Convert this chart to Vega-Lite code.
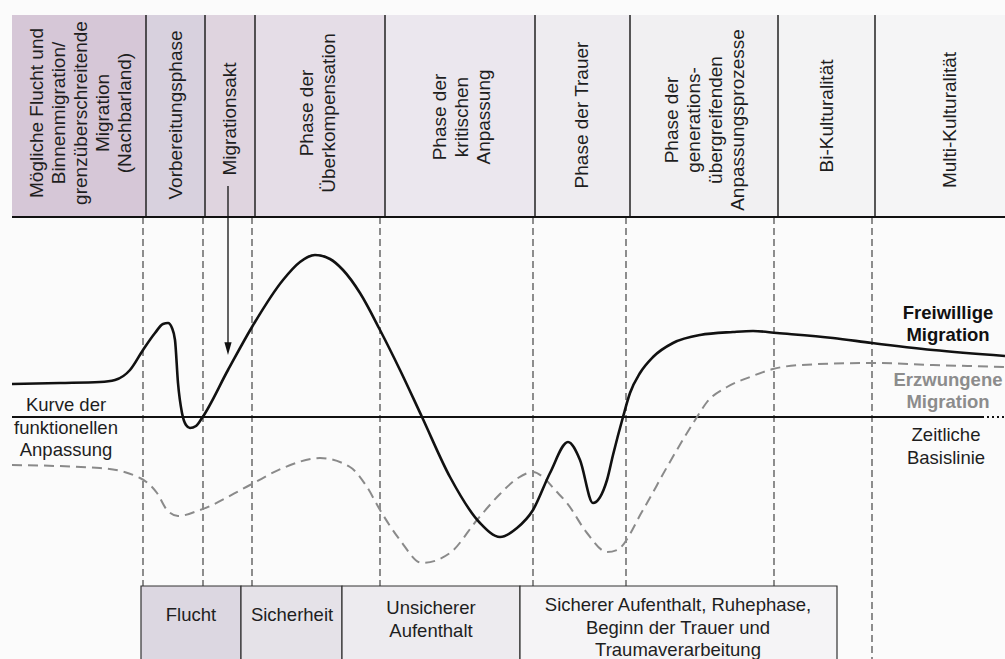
{
  "$schema": "https://vega.github.io/schema/vega-lite/v6.json",
  "width": 1005,
  "height": 659,
  "autosize": {"type": "none"},
  "padding": 0,
  "background": "#fbfbfb",
  "config": {"view": {"stroke": null}, "text": {"font": "Liberation Sans"}},
  "datasets": {
    "header": [
      {"id": "p1", "label": "Mögliche Flucht und\nBinnenmigration/\ngrenzüberschreitende\nMigration\n(Nachbarland)", "x0": 12, "x1": 146, "top": 402, "bot": 200, "xm": 37, "ym": 304},
      {"id": "p2", "label": "Vorbereitungsphase", "x0": 146, "x1": 205, "top": 402, "bot": 200, "xm": 176, "ym": 302},
      {"id": "p3", "label": "Migrationsakt", "x0": 205, "x1": 255, "top": 402, "bot": 200, "xm": 230, "ym": 298},
      {"id": "p4", "label": "Phase der\nÜberkompensation", "x0": 255, "x1": 385, "top": 402, "bot": 200, "xm": 307, "ym": 304},
      {"id": "p5", "label": "Phase der\nkritischen\nAnpassung", "x0": 385, "x1": 535, "top": 402, "bot": 200, "xm": 440, "ym": 300},
      {"id": "p6", "label": "Phase der Trauer", "x0": 535, "x1": 630, "top": 402, "bot": 200, "xm": 582, "ym": 302},
      {"id": "p7", "label": "Phase der\ngenerations-\nübergreifenden\nAnpassungsprozesse", "x0": 630, "x1": 778, "top": 402, "bot": 200, "xm": 672, "ym": 297},
      {"id": "p8", "label": "Bi-Kulturalität", "x0": 778, "x1": 875, "top": 402, "bot": 200, "xm": 827, "ym": 301},
      {"id": "p9", "label": "Multi-Kulturalität", "x0": 875, "x1": 1005, "top": 402, "bot": 200, "xm": 950, "ym": 297}
    ],
    "dividers": [
      {"t": 146, "top": 402, "bot": 200}, {"t": 205, "top": 402, "bot": 200}, {"t": 255, "top": 402, "bot": 200},
      {"t": 385, "top": 402, "bot": 200}, {"t": 535, "top": 402, "bot": 200}, {"t": 630, "top": 402, "bot": 200},
      {"t": 778, "top": 402, "bot": 200}, {"t": 875, "top": 402, "bot": 200}
    ],
    "dashes": [
      {"t": 143, "top": 200, "end": -169}, {"t": 203, "top": 200, "end": -169}, {"t": 252, "top": 200, "end": -169},
      {"t": 380, "top": 200, "end": -169}, {"t": 533, "top": 200, "end": -169}, {"t": 626, "top": 200, "end": -169},
      {"t": 774, "top": 200, "end": -169}, {"t": 872, "top": 200, "end": -250}
    ],
    "hlines": [
      {"kind": "header", "a": 12, "b": 1005, "lvl": 200},
      {"kind": "baseline", "a": 12, "b": 982, "lvl": 0}
    ],
    "boxes": [
      {"id": "b1", "label": "Flucht", "x0": 141, "x1": 241, "top": -169, "bot": -250, "xm": 191, "ym": -198},
      {"id": "b2", "label": "Sicherheit", "x0": 241, "x1": 342, "top": -169, "bot": -250, "xm": 292, "ym": -198},
      {"id": "b3", "label": "Unsicherer\nAufenthalt", "x0": 342, "x1": 520, "top": -169, "bot": -250, "xm": 431, "ym": -191},
      {"id": "b4", "label": "Sicherer Aufenthalt, Ruhephase,\nBeginn der Trauer und\nTraumaverarbeitung", "x0": 520, "x1": 837, "top": -169, "bot": -250, "xm": 678, "ym": -188}
    ],
    "free": [
      {"t": 12, "level": 33}, {"t": 60, "level": 34}, {"t": 100, "level": 35}, {"t": 115, "level": 37},
      {"t": 130, "level": 47}, {"t": 143, "level": 67}, {"t": 155, "level": 84}, {"t": 163, "level": 93},
      {"t": 168, "level": 94}, {"t": 172, "level": 89}, {"t": 175, "level": 77}, {"t": 178, "level": 34},
      {"t": 182, "level": 4}, {"t": 186, "level": -8}, {"t": 190, "level": -11}, {"t": 196, "level": -9},
      {"t": 202, "level": -1}, {"t": 228, "level": 47}, {"t": 252, "level": 90}, {"t": 283, "level": 137},
      {"t": 300, "level": 155}, {"t": 315, "level": 162}, {"t": 330, "level": 158}, {"t": 343, "level": 147},
      {"t": 360, "level": 124}, {"t": 380, "level": 87}, {"t": 400, "level": 47}, {"t": 422, "level": 0},
      {"t": 450, "level": -60}, {"t": 480, "level": -106}, {"t": 500, "level": -120}, {"t": 517, "level": -111},
      {"t": 533, "level": -93}, {"t": 550, "level": -56}, {"t": 568, "level": -25}, {"t": 580, "level": -43},
      {"t": 593, "level": -86}, {"t": 607, "level": -63}, {"t": 613, "level": -38}, {"t": 623, "level": 0},
      {"t": 630, "level": 24}, {"t": 640, "level": 44}, {"t": 653, "level": 60}, {"t": 673, "level": 74},
      {"t": 700, "level": 82}, {"t": 733, "level": 85}, {"t": 753, "level": 86}, {"t": 777, "level": 84},
      {"t": 833, "level": 79}, {"t": 872, "level": 74}, {"t": 933, "level": 67}, {"t": 1005, "level": 61}
    ],
    "forced": [
      {"t": 12, "level": -48}, {"t": 100, "level": -51}, {"t": 140, "level": -61}, {"t": 157, "level": -76},
      {"t": 167, "level": -93}, {"t": 178, "level": -99}, {"t": 200, "level": -93}, {"t": 250, "level": -68},
      {"t": 283, "level": -51}, {"t": 320, "level": -41}, {"t": 350, "level": -50}, {"t": 367, "level": -70},
      {"t": 380, "level": -93}, {"t": 400, "level": -123}, {"t": 422, "level": -146}, {"t": 450, "level": -136},
      {"t": 477, "level": -103}, {"t": 500, "level": -77}, {"t": 518, "level": -61}, {"t": 533, "level": -55},
      {"t": 543, "level": -60}, {"t": 555, "level": -73}, {"t": 567, "level": -86}, {"t": 587, "level": -116},
      {"t": 607, "level": -135}, {"t": 617, "level": -133}, {"t": 643, "level": -93}, {"t": 667, "level": -50},
      {"t": 687, "level": -16}, {"t": 697, "level": 0}, {"t": 707, "level": 15}, {"t": 727, "level": 30},
      {"t": 750, "level": 40}, {"t": 773, "level": 48}, {"t": 800, "level": 52}, {"t": 872, "level": 54},
      {"t": 933, "level": 52}, {"t": 1005, "level": 50}
    ]
  },
  "layer": [
    {
      "data": {"name": "header"},
      "mark": {"type": "rect"},
      "encoding": {
        "x": {"field": "x0", "type": "quantitative", "scale": {"domain": [0, 1005], "nice": false, "zero": false}, "axis": null},
        "x2": {"field": "x1"},
        "y": {"field": "top", "type": "quantitative", "scale": {"domain": [-242, 417], "nice": false, "zero": false}, "axis": null},
        "y2": {"field": "bot"},
        "fill": {"field": "id", "type": "nominal", "legend": null,
          "scale": {"domain": ["p1","p2","p3","p4","p5","p6","p7","p8","p9","b1","b2","b3","b4"],
                    "range": ["#d6c7d7","#d8d1de","#dfd4df","#e5dde7","#ebe7ee","#eeecf0","#f1f0f2","#f3f3f4","#f5f5f6","#dcd7e1","#e5e2e8","#edebef","#f5f4f6"]}}
      }
    },
    {
      "data": {"name": "dividers"},
      "mark": {"type": "rule", "stroke": "#222222", "strokeWidth": 1.5},
      "encoding": {
        "x": {"field": "t", "type": "quantitative", "scale": {"domain": [0, 1005], "nice": false, "zero": false}, "axis": null},
        "y": {"field": "top", "type": "quantitative", "scale": {"domain": [-242, 417], "nice": false, "zero": false}, "axis": null},
        "y2": {"field": "bot"}
      }
    },
    {
      "data": {"name": "dashes"},
      "mark": {"type": "rule", "stroke": "#333333", "strokeWidth": 1.1, "strokeDash": [7, 4]},
      "encoding": {
        "x": {"field": "t", "type": "quantitative", "scale": {"domain": [0, 1005], "nice": false, "zero": false}, "axis": null},
        "y": {"field": "top", "type": "quantitative", "scale": {"domain": [-242, 417], "nice": false, "zero": false}, "axis": null},
        "y2": {"field": "end"}
      }
    },
    {
      "data": {"name": "boxes"},
      "mark": {"type": "rect", "stroke": "#333333", "strokeWidth": 1.2},
      "encoding": {
        "x": {"field": "x0", "type": "quantitative", "scale": {"domain": [0, 1005], "nice": false, "zero": false}, "axis": null},
        "x2": {"field": "x1"},
        "y": {"field": "top", "type": "quantitative", "scale": {"domain": [-242, 417], "nice": false, "zero": false}, "axis": null},
        "y2": {"field": "bot"},
        "fill": {"field": "id", "type": "nominal", "legend": null,
          "scale": {"domain": ["p1","p2","p3","p4","p5","p6","p7","p8","p9","b1","b2","b3","b4"],
                    "range": ["#d6c7d7","#d8d1de","#dfd4df","#e5dde7","#ebe7ee","#eeecf0","#f1f0f2","#f3f3f4","#f5f5f6","#dcd7e1","#e5e2e8","#edebef","#f5f4f6"]}}
      }
    },
    {
      "data": {"name": "hlines"},
      "mark": {"type": "rule", "stroke": "#111111", "strokeWidth": 2.1},
      "encoding": {
        "x": {"field": "a", "type": "quantitative", "scale": {"domain": [0, 1005], "nice": false, "zero": false}, "axis": null},
        "x2": {"field": "b"},
        "y": {"field": "lvl", "type": "quantitative", "scale": {"domain": [-242, 417], "nice": false, "zero": false}, "axis": null}
      }
    },
    {
      "data": {"values": [{"a": 982, "b": 1005, "lvl": 0}]},
      "mark": {"type": "rule", "stroke": "#111111", "strokeWidth": 2, "strokeDash": [2, 3]},
      "encoding": {
        "x": {"field": "a", "type": "quantitative", "scale": {"domain": [0, 1005], "nice": false, "zero": false}, "axis": null},
        "x2": {"field": "b"},
        "y": {"field": "lvl", "type": "quantitative", "scale": {"domain": [-242, 417], "nice": false, "zero": false}, "axis": null}
      }
    },
    {
      "data": {"name": "forced"},
      "mark": {"type": "line", "stroke": "#8a8a8a", "strokeWidth": 2, "strokeDash": [10, 6], "interpolate": "monotone"},
      "encoding": {
        "x": {"field": "t", "type": "quantitative", "scale": {"domain": [0, 1005], "nice": false, "zero": false}, "axis": null},
        "y": {"field": "level", "type": "quantitative", "scale": {"domain": [-242, 417], "nice": false, "zero": false}, "axis": null}
      }
    },
    {
      "data": {"name": "free"},
      "mark": {"type": "line", "stroke": "#111111", "strokeWidth": 2.6, "interpolate": "monotone"},
      "encoding": {
        "x": {"field": "t", "type": "quantitative", "scale": {"domain": [0, 1005], "nice": false, "zero": false}, "axis": null},
        "y": {"field": "level", "type": "quantitative", "scale": {"domain": [-242, 417], "nice": false, "zero": false}, "axis": null}
      }
    },
    {
      "data": {"values": [{"t": 228, "from": 231, "to": 68}]},
      "mark": {"type": "rule", "stroke": "#111111", "strokeWidth": 1.3},
      "encoding": {
        "x": {"field": "t", "type": "quantitative", "scale": {"domain": [0, 1005], "nice": false, "zero": false}, "axis": null},
        "y": {"field": "from", "type": "quantitative", "scale": {"domain": [-242, 417], "nice": false, "zero": false}, "axis": null},
        "y2": {"field": "to"}
      }
    },
    {
      "data": {"values": [{"t": 228, "tip": 62}]},
      "mark": {"type": "point", "shape": "M-0.9,-3.2L0.9,-3.2L0,0Z", "size": 64, "filled": true, "color": "#111111", "opacity": 1},
      "encoding": {
        "x": {"field": "t", "type": "quantitative", "scale": {"domain": [0, 1005], "nice": false, "zero": false}, "axis": null},
        "y": {"field": "tip", "type": "quantitative", "scale": {"domain": [-242, 417], "nice": false, "zero": false}, "axis": null}
      }
    },
    {
      "data": {"name": "header"},
      "mark": {"type": "text", "angle": 270, "align": "center", "baseline": "middle", "fontSize": 19, "lineHeight": 22, "lineBreak": "\n", "color": "#1e1e1e"},
      "encoding": {
        "x": {"field": "xm", "type": "quantitative", "scale": {"domain": [0, 1005], "nice": false, "zero": false}, "axis": null},
        "y": {"field": "ym", "type": "quantitative", "scale": {"domain": [-242, 417], "nice": false, "zero": false}, "axis": null},
        "text": {"field": "label"}
      }
    },
    {
      "data": {"name": "boxes"},
      "mark": {"type": "text", "align": "center", "baseline": "middle", "fontSize": 18.5, "lineHeight": 22.5, "lineBreak": "\n", "color": "#1e1e1e"},
      "encoding": {
        "x": {"field": "xm", "type": "quantitative", "scale": {"domain": [0, 1005], "nice": false, "zero": false}, "axis": null},
        "y": {"field": "ym", "type": "quantitative", "scale": {"domain": [-242, 417], "nice": false, "zero": false}, "axis": null},
        "text": {"field": "label"}
      }
    },
    {
      "data": {"values": [
        {"label": "Kurve der\nfunktionellen\nAnpassung", "t": 66, "level": 12},
        {"label": "Zeitliche\nBasislinie", "t": 946, "level": -18}
      ]},
      "mark": {"type": "text", "align": "center", "baseline": "middle", "fontSize": 18.5, "lineHeight": 22.5, "lineBreak": "\n", "color": "#1e1e1e"},
      "encoding": {
        "x": {"field": "t", "type": "quantitative", "scale": {"domain": [0, 1005], "nice": false, "zero": false}, "axis": null},
        "y": {"field": "level", "type": "quantitative", "scale": {"domain": [-242, 417], "nice": false, "zero": false}, "axis": null},
        "text": {"field": "label"}
      }
    },
    {
      "data": {"values": [{"label": "Freiwillige\nMigration", "t": 948, "level": 104}]},
      "mark": {"type": "text", "align": "center", "baseline": "middle", "fontSize": 18.5, "fontWeight": "bold", "lineHeight": 22, "lineBreak": "\n", "color": "#111111"},
      "encoding": {
        "x": {"field": "t", "type": "quantitative", "scale": {"domain": [0, 1005], "nice": false, "zero": false}, "axis": null},
        "y": {"field": "level", "type": "quantitative", "scale": {"domain": [-242, 417], "nice": false, "zero": false}, "axis": null},
        "text": {"field": "label"}
      }
    },
    {
      "data": {"values": [{"label": "Erzwungene\nMigration", "t": 948, "level": 37}]},
      "mark": {"type": "text", "align": "center", "baseline": "middle", "fontSize": 18.5, "fontWeight": "bold", "lineHeight": 22, "lineBreak": "\n", "color": "#8c8c8c"},
      "encoding": {
        "x": {"field": "t", "type": "quantitative", "scale": {"domain": [0, 1005], "nice": false, "zero": false}, "axis": null},
        "y": {"field": "level", "type": "quantitative", "scale": {"domain": [-242, 417], "nice": false, "zero": false}, "axis": null},
        "text": {"field": "label"}
      }
    }
  ]
}
